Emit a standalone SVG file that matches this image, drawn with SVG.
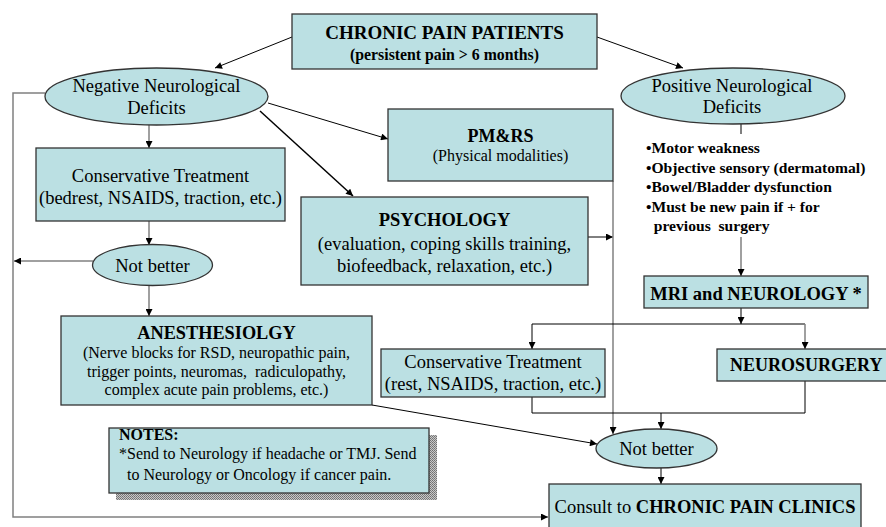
<svg xmlns="http://www.w3.org/2000/svg" width="886" height="527" viewBox="0 0 886 527">
<defs>
<marker id="ah" viewBox="0 0 10 10" refX="10" refY="5" markerWidth="8" markerHeight="7" markerUnits="userSpaceOnUse" orient="auto"><path d="M0,0 L10,5 L0,10 z" fill="#000"/></marker>
<pattern id="hatch" width="2" height="2" patternUnits="userSpaceOnUse"><rect width="2" height="2" fill="#c8c8c8"/><rect width="1" height="1" fill="#707070"/><rect x="1" y="1" width="1" height="1" fill="#808080"/></pattern>
</defs>
<style>
.box{fill:#bbe0e3;stroke:#333;stroke-width:1.3}
.t{fill:#000;text-anchor:middle}
.b{font-weight:bold}
.l{text-anchor:start}
.s18{font-size:18.5px}
.s16{font-size:16px}
.s15{font-size:15.6px}
.c{fill:none;stroke:#000;stroke-width:1}
.g{fill:none;stroke:#808080;stroke-width:1.5}
.k{fill:none;stroke:#000;stroke-width:1.5}
</style>
<rect width="886" height="527" fill="#fff"/>

<g id="connectors">
<path class="c" d="M292,37 L215,68" marker-end="url(#ah)"/>
<path class="c" d="M597,37 L683,68" marker-end="url(#ah)"/>
<path class="g" d="M45,93 L13,93 L13,517 L548,517" marker-end="url(#ah)"/>
<path class="g" d="M149,125 L149,148" marker-end="url(#ah)"/>
<path class="g" d="M149,221 L149,245" marker-end="url(#ah)"/>
<path class="g" d="M93,261 L14,261" marker-end="url(#ah)"/>
<path class="g" d="M149,285 L149,316" marker-end="url(#ah)"/>
<path class="c" d="M268,103 L388,139" stroke="#333" marker-end="url(#ah)"/>
<path class="k" d="M260,111 L353,196" marker-end="url(#ah)"/>
<path class="c" d="M588,237 L613,237" marker-end="url(#ah)"/>
<path class="g" d="M613,181 L613,434" marker-end="url(#ah)"/>
<path class="c" d="M372,405 L597,444" marker-end="url(#ah)"/>
<path class="c" d="M741,124 L741,134"/>
<path class="g" d="M741,237 L741,276" marker-end="url(#ah)"/>
<path class="c" d="M741,308 L741,324" marker-end="url(#ah)"/>
<path class="c" d="M532,324 L805,324"/>
<path class="c" d="M532,324 L532,349" marker-end="url(#ah)"/>
<path class="g" d="M805,324 L805,349" marker-end="url(#ah)"/>
<path class="c" d="M532,397 L532,413 L805,413 L805,381"/>
<path class="c" d="M661,413 L661,429" marker-end="url(#ah)"/>
<path class="c" d="M661,468 L661,484" marker-end="url(#ah)"/>
</g>

<g font-family="'Liberation Serif', 'Times New Roman', serif">
<g id="chronic-pain-patients">
<rect class="box" x="292" y="14" width="305" height="55"/>
<text class="t b" x="444.5" y="38.5" font-size="19px">CHRONIC PAIN PATIENTS</text>
<text class="t b" x="444.5" y="60" font-size="15.8px">(persistent pain &gt; 6 months)</text>
</g>

<g id="negative-deficits">
<ellipse class="box" cx="156.5" cy="96.5" rx="111.5" ry="28.5"/>
<text class="t s18" x="156.5" y="92">Negative Neurological</text>
<text class="t s18" x="156.5" y="114">Deficits</text>
</g>

<g id="positive-deficits">
<ellipse class="box" cx="733" cy="96" rx="112" ry="28"/>
<text class="t s18" x="732" y="92">Positive Neurological</text>
<text class="t s18" x="732" y="113">Deficits</text>
</g>

<g id="conservative-left">
<rect class="box" x="36" y="148" width="249" height="73"/>
<text class="t s18" x="160.5" y="182">Conservative Treatment</text>
<text class="t s18" x="160.5" y="204">(bedrest, NSAIDS, traction, etc.)</text>
</g>

<g id="not-better-left">
<ellipse class="box" cx="152.5" cy="265" rx="60" ry="20.5"/>
<text class="t s18" x="152.5" y="271.5">Not better</text>
</g>

<g id="anesthesiology">
<rect class="box" x="61" y="316" width="311" height="89"/>
<text class="t b" x="216.5" y="339" font-size="18.3px">ANESTHESIOLGY</text>
<text class="t s16" x="216.5" y="358">(Nerve blocks for RSD, neuropathic pain,</text>
<text class="t s16" x="216.5" y="377" xml:space="preserve">trigger points, neuromas,  radiculopathy,</text>
<text class="t s16" x="216.5" y="395">complex acute pain problems, etc.)</text>
</g>

<g id="notes">
<rect x="116" y="435" width="321" height="65" fill="url(#hatch)"/>
<rect class="box" x="109" y="428" width="320" height="65"/>
<text class="t b l s16" x="119" y="440">NOTES:</text>
<text class="t l s16" x="119" y="459">*Send to Neurology if headache or TMJ. Send</text>
<text class="t l s16" x="127" y="480">to Neurology or Oncology if cancer pain.</text>
</g>

<g id="pmrs">
<rect class="box" x="388" y="109" width="225" height="72"/>
<text class="t b" x="500.5" y="142" font-size="18px">PM&amp;RS</text>
<text class="t s16" x="500.5" y="161">(Physical modalities)</text>
</g>

<g id="psychology">
<rect class="box" x="301" y="197" width="287" height="88"/>
<text class="t b" x="444.5" y="226" font-size="18.5px">PSYCHOLOGY</text>
<text class="t s18" x="444.5" y="250">(evaluation, coping skills training,</text>
<text class="t s18" x="444.5" y="272">biofeedback, relaxation, etc.)</text>
</g>

<g id="criteria">
<text class="t b l s15" x="646" y="153">•Motor weakness</text>
<text class="t b l s15" x="646" y="172.5">•Objective sensory (dermatomal)</text>
<text class="t b l s15" x="646" y="192">•Bowel/Bladder dysfunction</text>
<text class="t b l s15" x="646" y="211.5">•Must be new pain if + for</text>
<text class="t b l s15" x="646" y="231" xml:space="preserve">  previous  surgery</text>
</g>

<g id="mri-neurology">
<rect class="box" x="644" y="276" width="224" height="32"/>
<text class="t b s18" x="756" y="300">MRI and NEUROLOGY *</text>
</g>

<g id="conservative-right">
<rect class="box" x="381" y="349" width="224" height="48"/>
<text class="t s18" x="493" y="368">Conservative Treatment</text>
<text class="t s18" x="493" y="390">(rest, NSAIDS, traction, etc.)</text>
</g>

<g id="neurosurgery">
<rect class="box" x="717" y="349" width="180" height="32"/>
<text class="t b l" x="730" y="371" font-size="18px">NEUROSURGERY</text>
</g>

<g id="not-better-right">
<ellipse class="box" cx="656.5" cy="448.5" rx="60.5" ry="19.5"/>
<text class="t s18" x="656.5" y="455">Not better</text>
</g>

<g id="consult">
<rect class="box" x="549" y="484" width="312" height="55"/>
<text class="t s18" x="705" y="513">Consult to <tspan class="b">CHRONIC PAIN CLINICS</tspan></text>
</g>
</g>
</svg>
